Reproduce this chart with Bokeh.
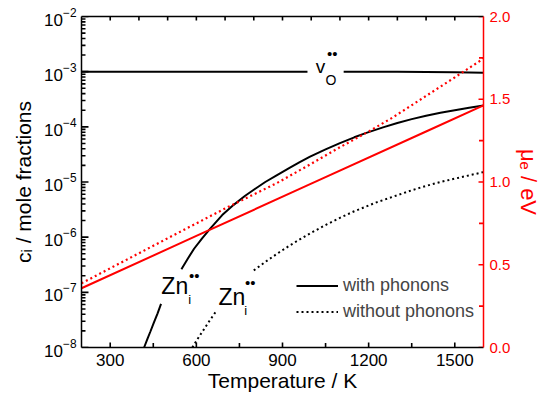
import math
from bokeh.plotting import figure
from bokeh.models import (LinearAxis, Range1d, FixedTicker, LogTicker, Legend, LinearScale,
                          LegendItem, Label, CustomJSTickFormatter, PrintfTickFormatter)
from bokeh.embed import file_html
from bokeh.resources import INLINE

NaN = float("nan")

# ---- data ----
# oxygen vacancy concentration (gap where the label sits)
T_vo = [200, 600, 987, NaN, 1113, 1200, 1300, 1400, 1500, 1600]
c_vo = [1.0e-3, 1.0e-3, 1.0e-3, NaN, 1.0e-3, 1.0e-3, 0.993e-3, 0.984e-3, 0.971e-3, 0.955e-3]

# Zn interstitial, with phonons
T_zn_ph = [418, 430, 440, 452, 465, 477, NaN, 548, 570, 592, 620, 649, 690, 730, 770, 800, 840,
           881, 926, 960, 996, 1050, 1100, 1150, 1192, 1250, 1300, 1350, 1400, 1450, 1500, 1550, 1600]
c_zn_ph = [1.0e-8, 1.445e-8, 1.95e-8, 2.82e-8, 4.17e-8, 6.17e-8, NaN, 2.63e-7, 4.07e-7, 6.17e-7,
           9.55e-7, 1.445e-6, 2.51e-6, 3.85e-6, 5.62e-6, 7.24e-6, 1.0e-5, 1.33e-5, 1.82e-5, 2.29e-5,
           2.88e-5, 3.89e-5, 5.07e-5, 6.46e-5, 7.76e-5, 9.77e-5, 1.175e-4, 1.38e-4, 1.585e-4,
           1.80e-4, 2.0e-4, 2.21e-4, 2.43e-4]

# Zn interstitial, without phonons
T_zn_noph = [586, 600, 620, 645, 672, NaN, 800, 840, 881, 926, 960, 1000, 1054, 1100, 1150, 1227,
             1300, 1350, 1400, 1450, 1500, 1550, 1600]
c_zn_noph = [1.0e-8, 1.32e-8, 1.9e-8, 3.0e-8, 4.8e-8, NaN, 2.5e-7, 3.55e-7, 5.0e-7, 7.1e-7, 9.1e-7,
             1.2e-6, 1.7e-6, 2.24e-6, 2.95e-6, 4.27e-6, 5.75e-6, 7.08e-6, 8.5e-6, 1.0e-5, 1.15e-5,
             1.32e-5, 1.51e-5]

# electron chemical potential (right axis, eV)
T_mu_ph = [200, 600, 1000, 1400, 1600]
mu_ph = [0.358, 0.674, 0.99, 1.305, 1.463]
T_mu_noph = [200, 500, 700, 881, 1000, 1100, 1200, 1284, 1400, 1500, 1600]
mu_noph = [0.388, 0.66, 0.84, 0.994, 1.11, 1.21, 1.305, 1.39, 1.52, 1.632, 1.746]

# axes: ranges and ticks
T_lo, T_hi = 200, 1600
c_lo, c_hi = 1e-8, 1e-2
mu_lo, mu_hi = 0.0, 2.0
x_ticks = [300, 600, 900, 1200, 1500]
x_minor = [450, 750, 1050, 1350]
top_ticks = [300, 400, 500, 600, 700, 800, 900, 1000, 1100, 1200, 1300, 1400, 1500]
y_major = [1e-8, 1e-7, 1e-6, 1e-5, 1e-4, 1e-3, 1e-2]
y_minor = [m * d for d in y_major[:-1] for m in range(2, 10)]
mu_ticks = [0.0, 0.5, 1.0, 1.5, 2.0]
mu_minor = [0.25, 0.75, 1.25, 1.75]

FONT = "Liberation Sans"
RED = "#ff0000"

p = figure(width=544, height=394, y_axis_type="log",
           x_range=Range1d(T_lo, T_hi), y_range=Range1d(c_lo, c_hi),
           output_backend="svg", toolbar_location=None,
           min_border_left=81, min_border_right=56, min_border_top=16, min_border_bottom=10)
p.grid.visible = False
p.outline_line_color = None
p.background_fill_color = None
p.border_fill_color = "white"
p.extra_y_ranges = {"mu": Range1d(mu_lo, mu_hi)}
p.extra_y_scales = {"mu": LinearScale()}

# bottom axis
xa = p.below[0]
xa.ticker = FixedTicker(ticks=x_ticks, minor_ticks=x_minor)
xa.axis_label = "Temperature / K"
xa.axis_label_text_font = FONT
xa.axis_label_text_font_size = "21px"
xa.axis_label_text_font_style = "normal"
xa.axis_label_standoff = 0
xa.major_label_text_font = FONT
xa.major_label_text_font_size = "17px"
xa.major_label_standoff = 6

# left log axis
ya = p.left[0]
ya.ticker = LogTicker(num_minor_ticks=10)
ya.axis_label = "cᵢ / mole fractions"
ya.axis_label_text_font = FONT
ya.axis_label_text_font_size = "21px"
ya.axis_label_text_font_style = "normal"
ya.axis_label_standoff = 6
ya.major_label_text_font = FONT
ya.major_label_text_font_size = "17px"
ya.major_label_standoff = 5

# top axis (line only)
top = LinearAxis(ticker=FixedTicker(ticks=top_ticks, minor_ticks=[]),
                 formatter=CustomJSTickFormatter(code="return ''"),
                 major_label_standoff=0)
p.add_layout(top, "above")

# right axis (mu_e)
right = LinearAxis(y_range_name="mu", ticker=FixedTicker(ticks=mu_ticks, minor_ticks=mu_minor),
                   formatter=PrintfTickFormatter(format="%.1f"),
                   axis_label="μₑ / eV")
right.axis_line_color = RED
right.major_label_text_color = RED
right.axis_label_text_color = RED
right.axis_label_text_font = FONT
right.axis_label_text_font_size = "22px"
right.axis_label_text_font_style = "normal"
right.axis_label_standoff = 3
right.major_label_text_font = FONT
right.major_label_text_font_size = "15px"
right.major_label_standoff = 6
p.add_layout(right, "right")

for ax in [xa, ya, top, right]:
    ax.major_tick_in = 0
    ax.major_tick_out = 0
    ax.minor_tick_in = 0
    ax.minor_tick_out = 0
    ax.axis_line_width = 1.5
for ax in [xa, ya, top]:
    ax.axis_line_color = "black"
    ax.major_label_text_color = "black"
    ax.axis_label_text_color = "black"

# inward tick marks drawn as short segments from the frame edge
FRAME_W, FRAME_H = 403.0, 330.0          # approximate frame size in px
dx_per_px = (T_hi - T_lo) / FRAME_W
dec_per_px = math.log10(c_hi / c_lo) / FRAME_H

def hticks(ys, x_edge, length_px, direction, color="black", rng="default"):
    x1 = x_edge + direction * length_px * dx_per_px
    p.segment(x0=[x_edge] * len(ys), y0=ys, x1=[x1] * len(ys), y1=ys,
              line_color=color, line_width=1.6, y_range_name=rng)

def vticks(xs, y_edge, length_px, direction):
    y1 = y_edge * 10 ** (direction * length_px * dec_per_px)
    p.segment(x0=xs, y0=[y_edge] * len(xs), x1=xs, y1=[y1] * len(xs),
              line_color="black", line_width=1.6)

hticks(y_major, T_lo, 7, +1)
hticks(y_minor, T_lo, 4, +1)
vticks(x_ticks, c_lo, 5, +1)
vticks(x_minor, c_lo, 4.5, +1)
vticks(top_ticks, c_hi, 4, -1)
hticks(mu_ticks, T_hi, 5, -1, RED, "mu")
hticks(mu_minor, T_hi, 4.5, -1, RED, "mu")

# curves
p.line(T_vo, c_vo, line_color="black", line_width=2)
r_ph = p.line(T_zn_ph, c_zn_ph, line_color="black", line_width=2)
r_noph = p.line(T_zn_noph, c_zn_noph, line_color="black", line_width=2, line_dash="2 3")
p.line(T_mu_ph, mu_ph, line_color=RED, line_width=2, y_range_name="mu")
p.line(T_mu_noph, mu_noph, line_color=RED, line_width=2.2, line_dash="2 3", y_range_name="mu")

# labels
def lab(x, y, text, size, baseline="alphabetic"):
    p.add_layout(Label(x=x, y=y, text=text, text_font=FONT, text_font_size=size,
                       text_baseline=baseline, text_color="black"))

lab(478, 1.3e-7, "Zn", "23px")
lab(572, 7.3e-8, "i", "13px")
lab(574, 2.0e-7, "••", "15px", "middle")
lab(677, 8.2e-8, "Zn", "23px")
lab(767, 4.6e-8, "i", "13px")
lab(769, 1.48e-7, "••", "15px", "middle")
lab(1016, 1.26e-3, "v", "19px")
lab(1050, 7.2e-4, "O", "14px")
lab(1055, 2.1e-3, "••", "15px", "middle")

legend = Legend(items=[LegendItem(label="with phonons", renderers=[r_ph]),
                       LegendItem(label="without phonons", renderers=[r_noph])],
                location=(215, 25))
legend.label_text_font = FONT
legend.label_text_font_size = "18px"
legend.glyph_width = 42
legend.glyph_height = 17
legend.label_height = 17
legend.spacing = 5
legend.padding = 0
legend.margin = 0
legend.label_standoff = 5
legend.border_line_color = None
legend.background_fill_alpha = 0
p.add_layout(legend)

open("out.html", "w").write(file_html(p, INLINE))
